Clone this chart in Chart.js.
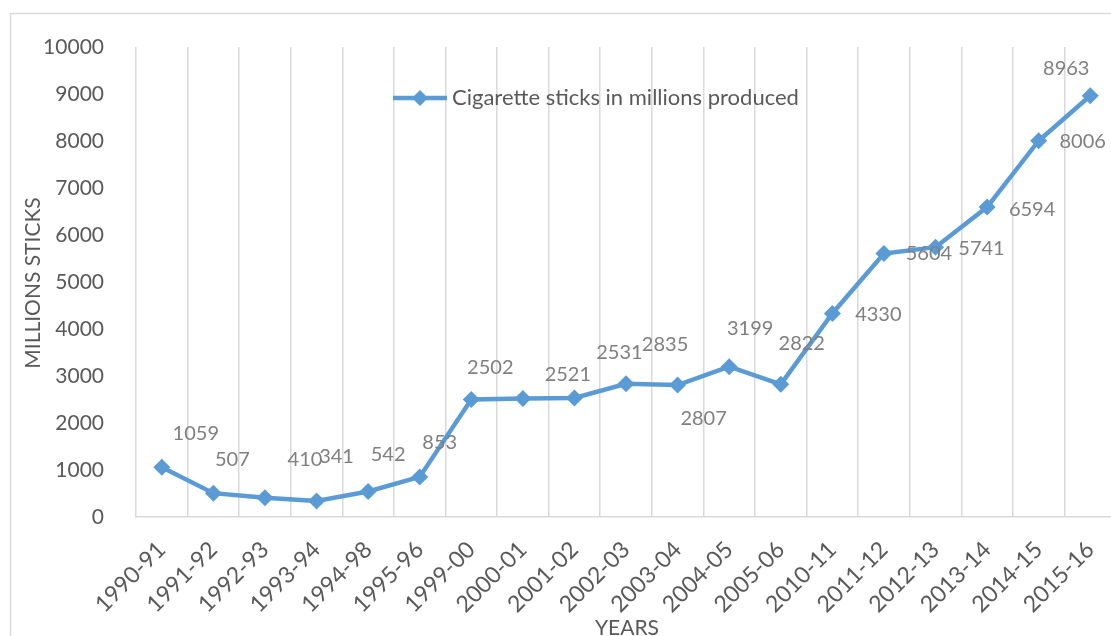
<!DOCTYPE html>
<html>
<head>
<meta charset="utf-8">
<script src="https://cdn.jsdelivr.net/npm/chart.js@4.4.1/dist/chart.umd.min.js"></script>
<style>
  html, body { margin: 0; padding: 0; background: #fff; overflow: hidden; }
  #chart-box { position: absolute; left: 0; top: 0; }
</style>
</head>
<body>
<div id="chart-box"><canvas id="sticks-chart" width="1129" height="636"></canvas></div>
<script>
const years = ['1990-91', '1991-92', '1992-93', '1993-94', '1994-98', '1995-96', '1999-00',
  '2000-01', '2001-02', '2002-03', '2003-04', '2004-05', '2005-06', '2010-11', '2011-12',
  '2012-13', '2013-14', '2014-15', '2015-16'];
const sticks = [1059, 507, 410, 341, 542, 853, 2502, 2521, 2531, 2835, 2807, 3199, 2822,
  4330, 5604, 5741, 6594, 8006, 8963];
const seriesName = 'Cigarette sticks in millions produced';
const yTitle = 'MILLIONS STICKS';
const xTitle = 'YEARS';

// value labels were hand placed in the original, so keep a shift (px) per marker
const labelShift = [[34, -34], [19, -34], [40, -38], [20, -44], [20, -37], [20, -34], [19, -32],
  [45, -24], [45, -45], [39, -39], [26, 33], [21, -38], [21, -41], [46, 1], [45, 0], [46, 1],
  [45, 2], [44, 1], [-24, -27]];

const FONT = 'Lato, "Noto Sans", sans-serif';
const BLUE = '#5b9bd5';
const TEXT = '#595959';
const GRID = '#d9d9d9';

const extras = {
  id: 'extras',
  beforeDraw(chart) {
    const ctx = chart.ctx;
    ctx.save();
    ctx.fillStyle = '#fff';
    ctx.fillRect(0, 0, chart.width, chart.height);
    // outer chart frame, runs off the right and bottom edge
    ctx.strokeStyle = GRID;
    ctx.lineWidth = 1.5;
    ctx.strokeRect(10.5, 13.5, chart.width + 40, chart.height + 40);
    ctx.restore();
  },
  afterDatasetsDraw(chart) {
    const ctx = chart.ctx;
    const points = chart.getDatasetMeta(0).data;
    ctx.save();
    ctx.font = '20px ' + FONT;
    ctx.fillStyle = '#7f7f7f';
    ctx.textAlign = 'center';
    ctx.textBaseline = 'middle';
    points.forEach((pt, i) => {
      ctx.fillText(String(sticks[i]), pt.x + labelShift[i][0], pt.y + labelShift[i][1]);
    });
    ctx.restore();
  },
  afterDraw(chart) {
    const ctx = chart.ctx;
    ctx.save();
    // legend inside the plot
    const ly = 98;
    ctx.strokeStyle = BLUE;
    ctx.lineWidth = 4.5;
    ctx.beginPath();
    ctx.moveTo(393, ly);
    ctx.lineTo(447, ly);
    ctx.stroke();
    ctx.fillStyle = BLUE;
    ctx.beginPath();
    ctx.moveTo(420 - 8, ly);
    ctx.lineTo(420, ly - 8);
    ctx.lineTo(420 + 8, ly);
    ctx.lineTo(420, ly + 8);
    ctx.closePath();
    ctx.fill();
    ctx.fillStyle = TEXT;
    ctx.font = '22px ' + FONT;
    ctx.textAlign = 'left';
    ctx.textBaseline = 'middle';
    ctx.fillText(seriesName, 452, ly);

    // axis titles
    ctx.font = '21px ' + FONT;
    ctx.textAlign = 'center';
    ctx.fillText(xTitle, 627, 628);
    ctx.translate(33, 283);
    ctx.rotate(-Math.PI / 2);
    ctx.fillText(yTitle, 0, 0);
    ctx.restore();
  }
};

new Chart(document.getElementById('sticks-chart'), {
  type: 'line',
  data: {
    labels: years,
    datasets: [{
      label: seriesName,
      data: sticks,
      borderColor: BLUE,
      backgroundColor: BLUE,
      borderWidth: 4.5,
      pointStyle: 'rectRot',
      pointRadius: 8.5,
      pointBorderWidth: 0,
      pointBackgroundColor: BLUE,
      tension: 0,
      fill: false
    }]
  },
  options: {
    responsive: false,
    animation: false,
    layout: { padding: { top: 47, left: 0, right: 0, bottom: 0 } },
    plugins: {
      legend: { display: false },
      tooltip: { enabled: false }
    },
    scales: {
      x: {
        offset: true,
        afterFit(scale) { scale.height = 119; },
        grid: { color: GRID, lineWidth: 1.5, offset: true, drawTicks: false },
        border: { color: GRID, width: 1.5 },
        ticks: {
          color: TEXT,
          font: { family: FONT, size: 23 },
          minRotation: 45,
          maxRotation: 45,
          padding: 19,
          autoSkip: false
        }
      },
      y: {
        min: 0,
        max: 10000,
        afterFit(scale) { scale.width = 136; },
        grid: { display: false },
        border: { display: false },
        ticks: {
          stepSize: 1000,
          color: TEXT,
          font: { family: FONT, size: 21 },
          padding: 24,
          callback: v => String(v)
        }
      }
    }
  },
  plugins: [extras]
});
</script>
</body>
</html>
